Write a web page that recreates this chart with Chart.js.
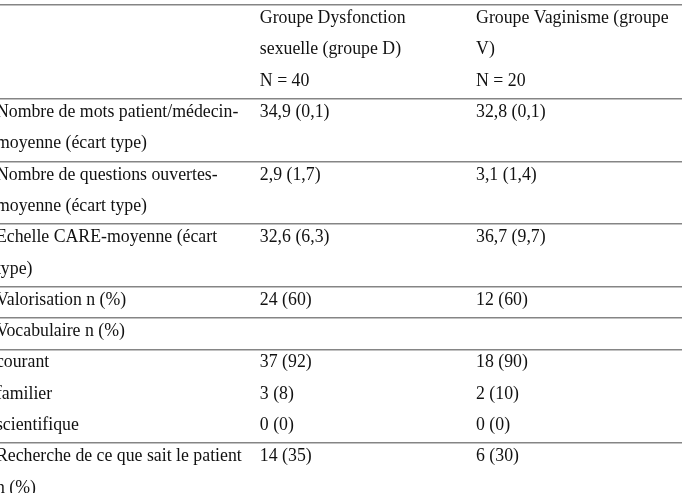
<!DOCTYPE html>
<html>
<head>
<meta charset="utf-8">
<script src="https://cdn.jsdelivr.net/npm/chart.js@4.4.0/dist/chart.umd.min.js"></script>
<style>
  html, body { margin: 0; padding: 0; background: #fff; }
  canvas { display: block; }
</style>
</head>
<body>
<canvas id="table-chart" width="685" height="493"></canvas>
<script>
/**
 * Data
 */
// Première colonne (libellés, déjà coupés comme dans le tableau)
const rowLabels = [
  [],
  ["Nombre de mots patient/médecin-", "moyenne (écart type)"],
  ["Nombre de questions ouvertes-", "moyenne (écart type)"],
  ["Echelle CARE-moyenne (écart", "type)"],
  ["Valorisation n (%)"],
  ["Vocabulaire n (%)"],
  ["courant", "familier", "scientifique"],
  ["Recherche de ce que sait le patient", "n (%)"]
];

// Groupe Dysfonction sexuelle (groupe D)
const groupD = [
  ["Groupe Dysfonction", "sexuelle (groupe D)", "N = 40"],
  ["34,9 (0,1)"],
  ["2,9 (1,7)"],
  ["32,6 (6,3)"],
  ["24 (60)"],
  [],
  ["37 (92)", "3 (8)", "0 (0)"],
  ["14 (35)"]
];

// Groupe Vaginisme (groupe V)
const groupV = [
  ["Groupe Vaginisme (groupe", "V)", "N = 20"],
  ["32,8 (0,1)"],
  ["3,1 (1,4)"],
  ["36,7 (9,7)"],
  ["12 (60)"],
  [],
  ["18 (90)", "2 (10)", "0 (0)"],
  ["6 (30)"]
];

/**
 * Layout
 */
const colStarts = [-0.6, 38.1, 69.8]; // en % de la largeur
const visibleLines = 15.59;           // lignes de texte visibles
const textOffset = 0.43;

// nombre de lignes de texte par rangée
const rowLines = rowLabels.map((l, i) => Math.max(l.length, groupD[i].length, groupV[i].length, 1));

// limites des rangées -> traits horizontaux
const rowBounds = [0];
rowLines.forEach(n => rowBounds.push(rowBounds[rowBounds.length - 1] + n));

// Plugin pour écrire le texte des cellules
const tableText = {
  id: 'tableText',
  afterDatasetsDraw(chart) {
    const { ctx, scales: { x, y } } = chart;
    ctx.save();
    ctx.font = '17.8px "Liberation Serif", "Times New Roman", serif';
    ctx.fillStyle = '#111';
    ctx.textAlign = 'left';
    ctx.textBaseline = 'middle';
    rowLabels.forEach((label, r) => {
      [label, groupD[r], groupV[r]].forEach((cell, c) => {
        cell.forEach((txt, k) => {
          ctx.fillText(txt, x.getPixelForValue(colStarts[c]), y.getPixelForValue(rowBounds[r] + k + textOffset));
        });
      });
    });
    ctx.restore();
  }
};

const createTable = () => {
  const ctx = document.getElementById('table-chart').getContext('2d');

  new Chart(ctx, {
    type: 'scatter',
    data: { datasets: [] },
    options: {
      responsive: false,
      animation: false,
      devicePixelRatio: 1,
      layout: { padding: { top: 5, right: 3, left: 0, bottom: 0 } },
      plugins: {
        legend: { display: false },
        tooltip: { enabled: false }
      },
      scales: {
        x: {
          type: 'linear',
          display: false,
          min: 0,
          max: 100
        },
        y: {
          type: 'linear',
          reverse: true,
          min: 0,
          max: visibleLines,
          afterBuildTicks: (scale) => {
            scale.ticks = rowBounds.filter(v => v <= visibleLines).map(v => ({ value: v }));
          },
          ticks: { display: false },
          border: { display: false },
          grid: {
            color: '#858585',
            lineWidth: 1.6,
            drawTicks: false
          }
        }
      }
    },
    plugins: [tableText]
  });
}

document.addEventListener("DOMContentLoaded", () => {
  createTable();
});
</script>
</body>
</html>
